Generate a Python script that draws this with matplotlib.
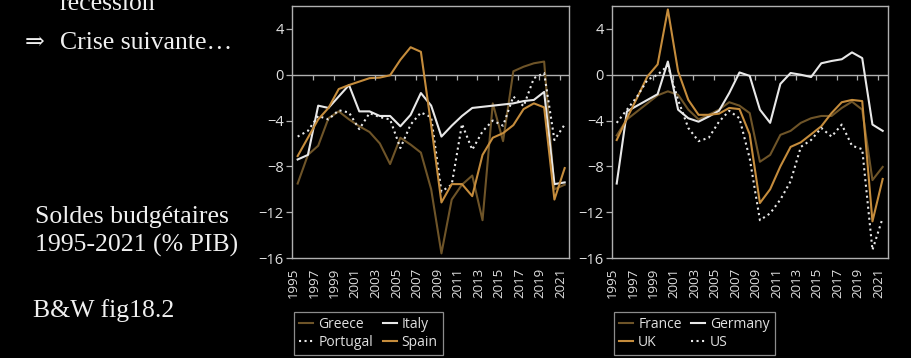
import matplotlib
matplotlib.use("Agg")
import matplotlib.pyplot as plt
from matplotlib.transforms import ScaledTranslation

years = list(range(1995, 2022))

greece = [-9.5, -7.0, -6.2, -3.8, -3.2, -3.9, -4.5, -5.0, -6.0, -7.8, -5.5, -6.1, -6.8,
          -10.0, -15.6, -10.9, -9.6, -8.8, -12.7, -2.5, -5.8, 0.3, 0.7, 1.0, 1.15, -10.0, -9.6]
italy = [-7.4, -7.0, -2.7, -2.9, -1.9, -0.9, -3.2, -3.2, -3.6, -3.6, -4.5, -3.5, -1.6,
         -2.7, -5.4, -4.45, -3.6, -2.9, -2.8, -2.7, -2.6, -2.5, -2.3, -2.2, -1.5, -9.55, -9.4]
portugal = [-5.4, -4.9, -3.6, -3.9, -3.1, -3.3, -4.75, -3.35, -3.7, -3.9, -6.4, -4.35, -3.3,
            -3.7, -10.2, -9.6, -4.3, -6.55, -4.95, -4.0, -4.45, -1.9, -2.75, -0.3, 0.15, -5.7, -4.35]
spain = [-7.1, -5.5, -3.9, -2.9, -1.25, -0.9, -0.6, -0.3, -0.25, -0.05, 1.3, 2.4, 2.0,
         -4.4, -11.15, -9.55, -9.55, -10.6, -7.0, -5.5, -5.1, -4.4, -3.0, -2.5, -2.85, -10.9, -8.15]

france = [-5.3, -3.9, -3.2, -2.5, -1.8, -1.45, -1.75, -3.05, -3.9, -3.5, -3.05, -2.4, -2.7,
          -3.35, -7.6, -7.0, -5.25, -4.9, -4.2, -3.8, -3.6, -3.6, -2.9, -2.35, -3.05, -9.2, -8.05]
germany = [-9.5, -3.2, -2.7, -2.2, -1.7, 1.15, -3.05, -3.8, -4.1, -3.65, -3.15, -1.6, 0.2,
           -0.1, -3.05, -4.2, -0.8, 0.15, 0.0, -0.2, 1.0, 1.2, 1.35, 1.95, 1.45, -4.35, -4.9]
uk = [-5.7, -3.8, -2.0, -0.15, 0.9, 5.7, 0.3, -2.2, -3.5, -3.5, -3.4, -2.9, -3.0,
      -5.2, -11.2, -10.0, -8.0, -6.3, -5.9, -5.2, -4.5, -3.35, -2.4, -2.2, -2.3, -12.8, -9.1]
us = [-4.2, -3.05, -1.9, -0.45, 0.0, 0.8, -2.2, -4.65, -5.8, -5.5, -4.1, -3.15, -3.8,
      -7.3, -12.7, -12.1, -10.9, -9.3, -6.3, -5.7, -4.65, -5.4, -4.35, -6.2, -6.5, -15.3, -12.5]

yticks = [4, 0, -4, -8, -12, -16]
label_years = list(range(1995, 2022, 2))
zero_ticks = [y + 0.5 for y in range(1996, 2021, 2)]

BROWN = "#6e5428"
GOLD = "#c58c3c"
WHITE = "#e8e8e8"
GREY = "#b0b0b0"
TXT = "#e0e0e0"

plt.rcParams["font.family"] = ["Open Sans", "DejaVu Sans"]

fig = plt.figure(figsize=(9.11, 3.58), dpi=100, facecolor="black")

# slide text on the left
serif = ["Liberation Serif", "DejaVu Serif"]
fig.text(60 / 911, 1 - 10 / 358, "recession", color="#f0f0f0", fontsize=18.5,
         family=serif, va="baseline")
fig.text(25 / 911, 1 - 49 / 358, "\u21d2", color="#f0f0f0", fontsize=17,
         family=["DejaVu Serif"], va="baseline")
fig.text(60 / 911, 1 - 49 / 358, "Crise suivante\u2026", color="#f0f0f0", fontsize=18.5,
         family=serif, va="baseline")
fig.text(35 / 911, 1 - 223 / 358, "Soldes budgétaires", color="#f0f0f0", fontsize=18.5,
         family=serif, va="baseline")
fig.text(35 / 911, 1 - 252 / 358, "1995-2021 (% PIB)", color="#f0f0f0", fontsize=18.5,
         family=serif, va="baseline")
fig.text(33 / 911, 1 - 317 / 358, "B&W fig18.2", color="#f0f0f0", fontsize=18.5,
         family=serif, va="baseline")


def panel(rect, xlim, series):
    ax = fig.add_axes(rect)
    ax.set_facecolor("black")
    for vals, color, ls, name in series:
        ax.plot(years, vals, color=color, lw=1.5, ls=ls, label=name)
    ax.axhline(0, color=GREY, lw=1.0, zorder=1)
    ax.vlines(zero_ticks, -0.42, 0, color=GREY, lw=0.9)
    ax.set_xlim(*xlim)
    ax.set_ylim(-16, 6)
    ax.set_yticks(yticks)
    ax.set_yticklabels([str(v).replace("-", "\u2212") for v in yticks])
    ax.set_xticks(label_years)
    ax.set_xticklabels([str(y) for y in label_years], rotation=90)
    ax.tick_params(axis="x", length=0, pad=7, colors=TXT, labelsize=9.5)
    ax.tick_params(axis="y", length=4, width=0.9, pad=2, colors=TXT,
                   labelsize=10.5, color=GREY)
    for lab in ax.get_xticklabels():
        lab.set_transform(lab.get_transform() +
                          ScaledTranslation(-4 / 100, 0, fig.dpi_scale_trans))
    for sp in ax.spines.values():
        sp.set_color(GREY)
        sp.set_linewidth(1.0)
    h, l = ax.get_legend_handles_labels()
    order = [0, 2, 1, 3]
    leg = ax.legend([h[i] for i in order], [l[i] for i in order], ncol=2,
                    loc="upper left", bbox_to_anchor=(0.008, -0.213),
                    frameon=True, fancybox=False, facecolor="black",
                    edgecolor=GREY, fontsize=10, labelcolor=TXT,
                    handlelength=1.0, handletextpad=0.35, columnspacing=0.7,
                    borderpad=0.38, labelspacing=0.22, borderaxespad=0)
    leg.get_frame().set_linewidth(0.9)
    return ax


panel([292 / 911, 100 / 358, 277 / 911, 252 / 358], (1994.45, 2021.42),
      [(greece, BROWN, "-", "Greece"), (italy, WHITE, "-", "Italy"),
       (portugal, WHITE, ":", "Portugal"), (spain, GOLD, "-", "Spain")])

panel([612 / 911, 100 / 358, 276 / 911, 252 / 358], (1994.54, 2021.52),
      [(france, BROWN, "-", "France"), (germany, WHITE, "-", "Germany"),
       (uk, GOLD, "-", "UK"), (us, WHITE, ":", "US")])

fig.savefig("out.png", dpi=100, facecolor="black")
